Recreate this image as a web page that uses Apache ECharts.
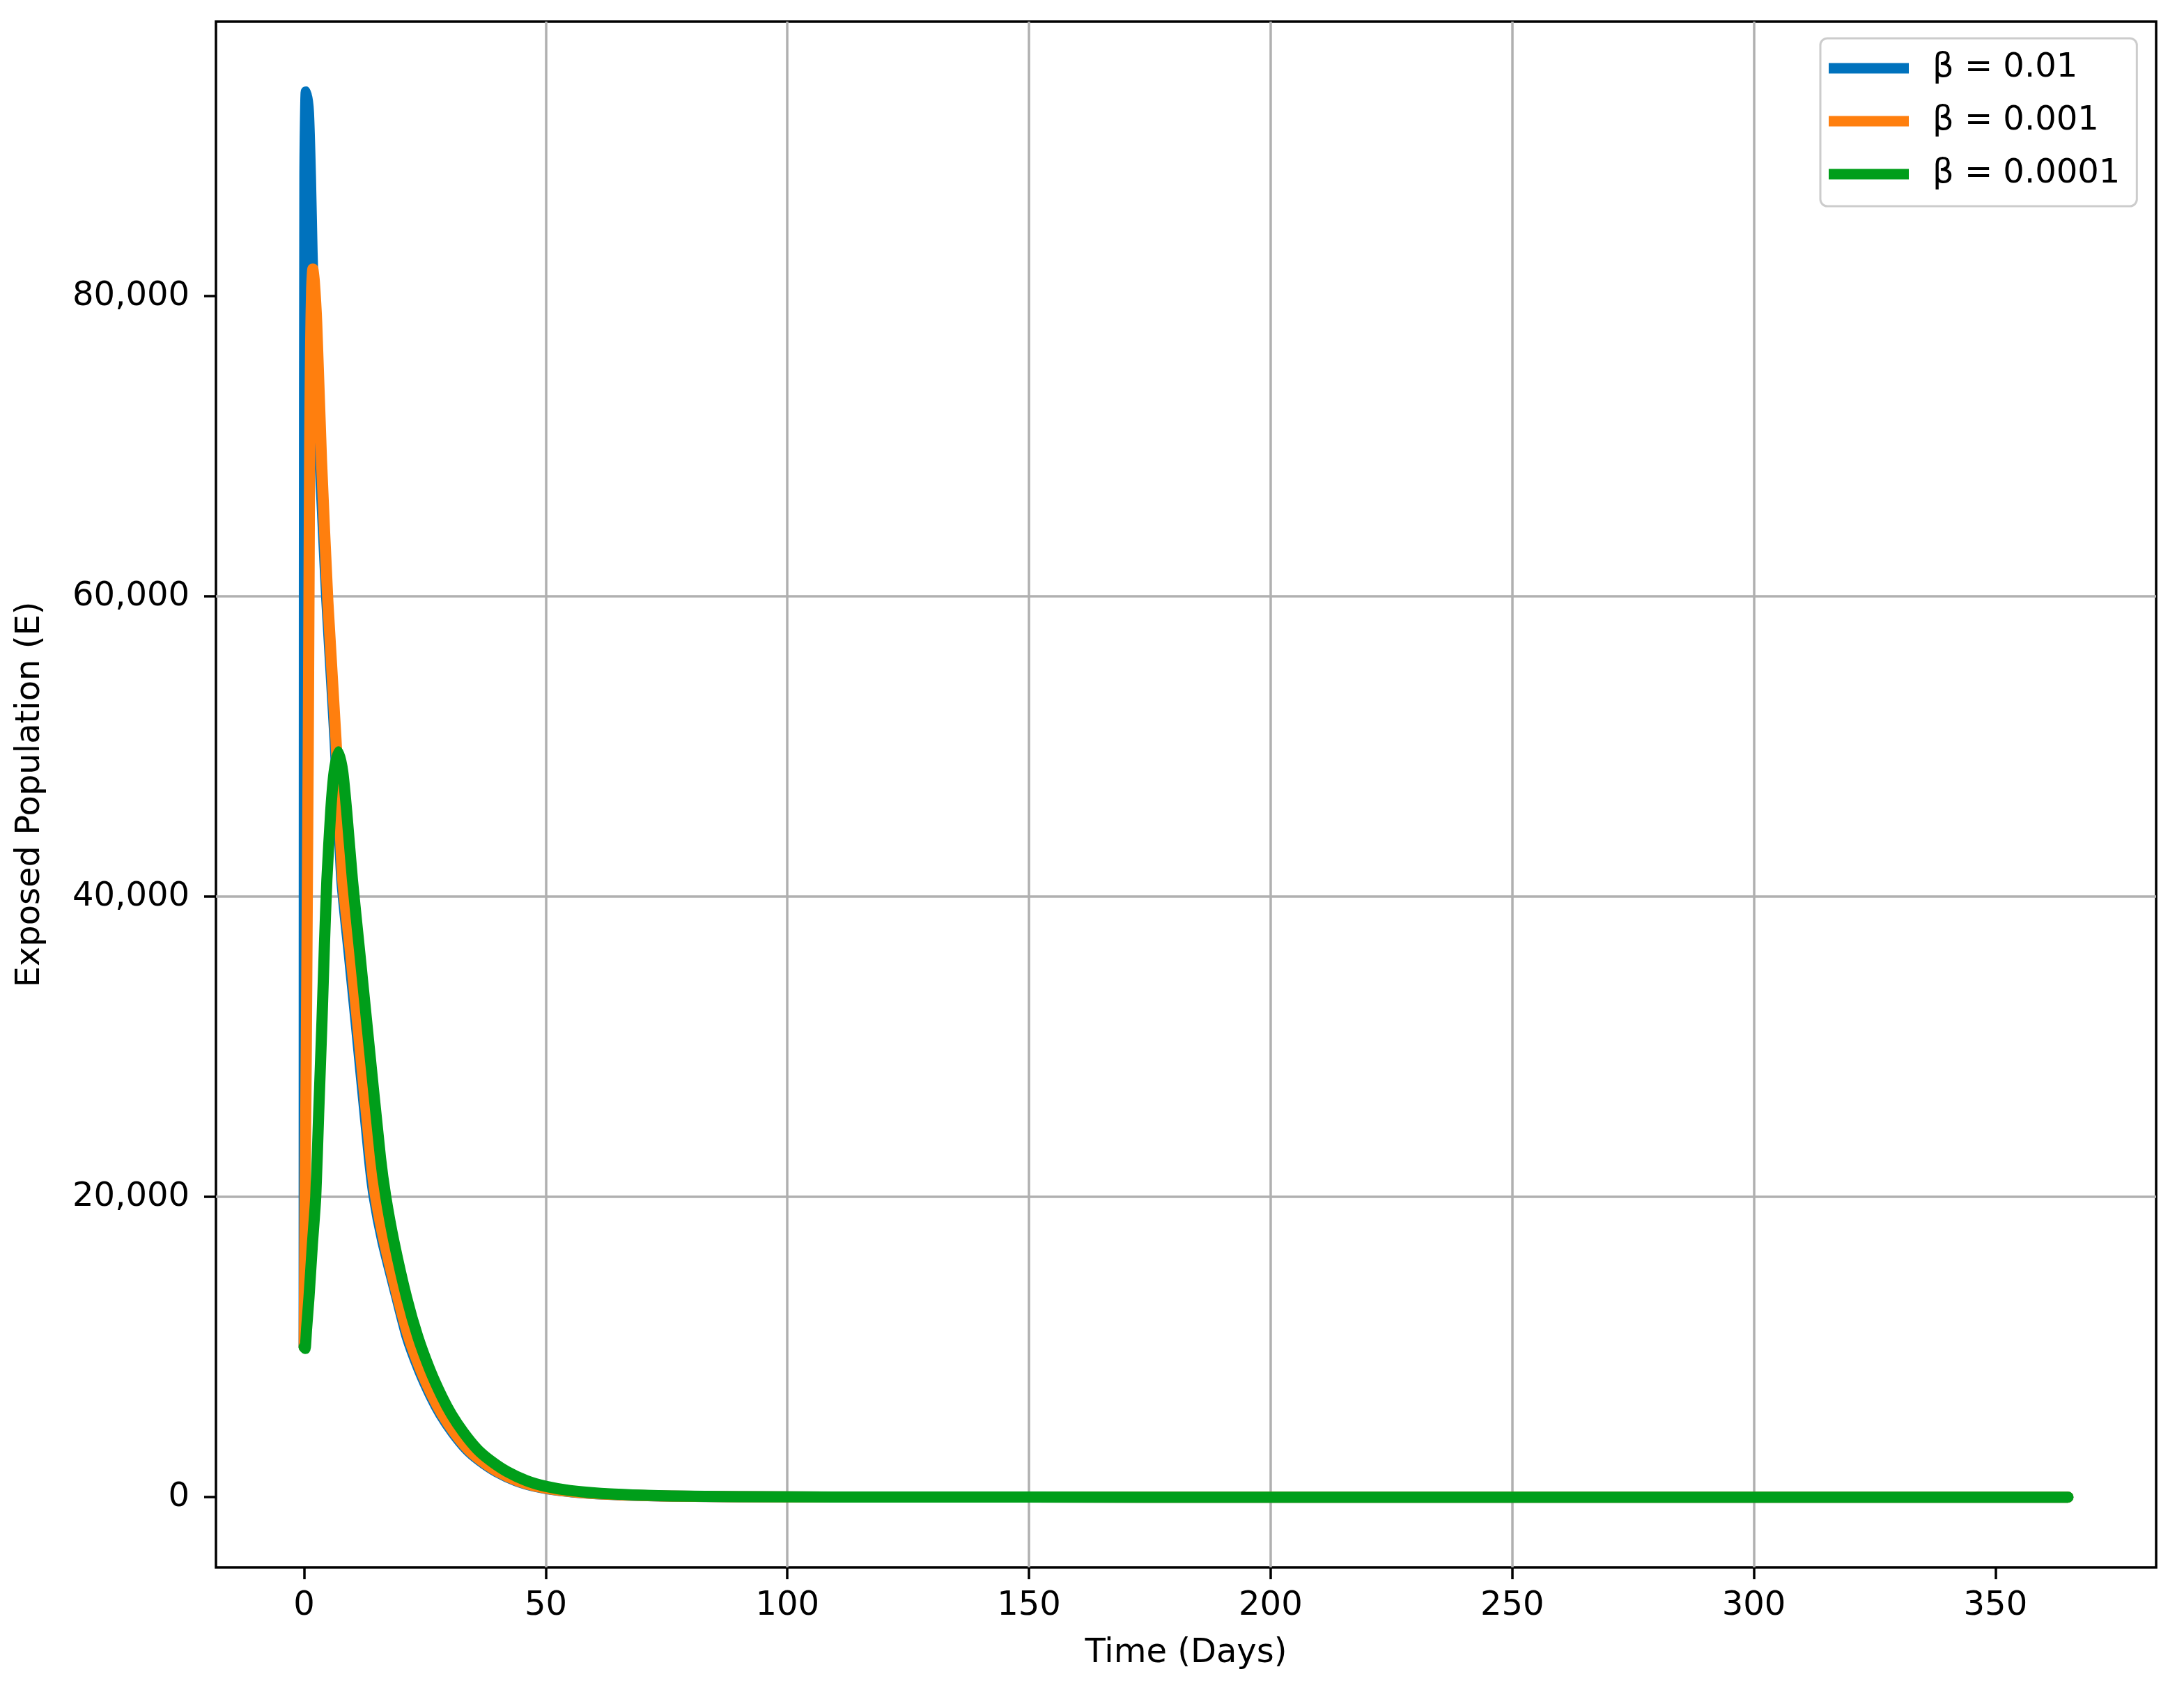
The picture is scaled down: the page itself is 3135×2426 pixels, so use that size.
<!DOCTYPE html>
<html>
<head>
<meta charset="utf-8">
<script src="https://cdn.jsdelivr.net/npm/echarts@6/dist/echarts.min.js"></script>
<style>
html,body{margin:0;padding:0;background:#fff;}
#chart{width:3135px;height:2426px;}
</style>
</head>
<body>
<div id="chart"></div>
<script>
// ---- data ----
const seriesNames = ['β = 0.01', 'β = 0.001', 'β = 0.0001'];

const blueDays = [0, 0.05, 0.15, 0.43, 0.9, 1.3, 1.64, 2.1, 3.3, 4.7, 6.4, 7.8, 9.3, 10.7, 13.5, 14.5, 16.3, 19.2, 21.3, 23.8, 26.3, 28.3, 30.8, 33.6, 36.3, 39.8, 43.8, 47.8, 52.8, 59.2, 65.7, 73.7, 87.7, 107.7, 147.7, 200, 250, 300, 365];
const blueE    = [10000, 60000, 88000, 93600, 92200, 88000, 82900, 78000, 69000, 59700, 50400, 41100, 36300, 31800, 22600, 20000, 17000, 13300, 10700, 8500, 6700, 5500, 4300, 3200, 2450, 1700, 1100, 720, 440, 250, 150, 80, 35, 12, 2, 0, 0, 0, 0];

const orangeDays = [0, 0.2, 0.45, 0.65, 0.85, 1.0, 1.15, 1.35, 1.55, 1.8, 2.1, 2.6, 3.6, 4.9, 6.6, 8.0, 9.6, 11.0, 13.8, 14.8, 16.6, 19.4, 21.6, 24.1, 26.6, 28.6, 31.1, 33.9, 36.6, 40.1, 44.1, 48.1, 53.1, 59.5, 66, 74, 88, 108, 148, 200, 250, 300, 365];
const orangeE    = [10000, 20000, 30000, 40000, 50000, 60000, 70000, 77000, 80500, 81800, 81000, 78200, 69000, 59700, 50400, 41100, 36300, 31800, 22600, 20000, 17000, 13300, 10700, 8500, 6700, 5500, 4300, 3200, 2450, 1700, 1100, 720, 440, 250, 150, 80, 35, 12, 2, 0, 0, 0, 0];

const greenDays = [0, 0.2, 0.5, 1.0, 1.7, 2.4, 3.0, 3.7, 4.2, 4.7, 5.5, 6.2, 7.1, 8.0, 8.8, 10.0, 11.5, 12.9, 15.8, 16.9, 18.6, 21.2, 23.5, 26.0, 28.5, 30.5, 33.0, 35.8, 38.5, 42.0, 46, 50, 55, 61.4, 68, 76, 90, 110, 150, 200, 250, 300, 365];
const greenE    = [10000, 9900, 11200, 13300, 16800, 20000, 25500, 31800, 36800, 41100, 45700, 48300, 49650, 48300, 45700, 41100, 36300, 31800, 22600, 20000, 17000, 13300, 10700, 8500, 6700, 5500, 4300, 3200, 2450, 1700, 1100, 720, 440, 250, 150, 80, 35, 12, 2, 0, 0, 0, 0];

const xTicks = [0, 50, 100, 150, 200, 250, 300, 350];
const yTicks = [0, 20000, 40000, 60000, 80000];

const colors = ['#0072bd', '#ff7f0e', '#009e1a'];

function pairs(xs, ys){ return xs.map((x,i)=>[x, ys[i]]); }

const FONT = 'DejaVu Sans';
const chart = echarts.init(document.getElementById('chart'), null, {renderer:'canvas'});

const lineSeries = [[blueDays, blueE],[orangeDays, orangeE],[greenDays, greenE]].map((d, i) => ({
  name: seriesNames[i],
  type: 'line',
  data: pairs(d[0], d[1]),
  showSymbol: false,
  symbol: 'none',
  smooth: 0.2,
  animation: false,
  lineStyle: { color: colors[i], width: 16, cap: 'round', join: 'round' },
  itemStyle: { color: colors[i] },
  emphasis: { disabled: true },
  z: 3 + i
}));

chart.setOption({
  animation: false,
  backgroundColor: '#ffffff',
  grid: {
    left: 310, right: 40, top: 31, bottom: 176,
    show: true, borderColor: '#000000', borderWidth: 3.5, backgroundColor: '#ffffff'
  },
  legend: {
    orient: 'vertical',
    left: 2613, top: 55,
    data: seriesNames,
    icon: 'rect',
    itemWidth: 115, itemHeight: 15,
    itemGap: 24,
    padding: [17, 24, 20, 12],
    backgroundColor: 'rgba(255,255,255,0.85)',
    borderColor: '#cccccc', borderWidth: 3, borderRadius: 10,
    textStyle: { fontFamily: FONT, fontSize: 48, color: '#000', lineHeight: 52, padding: [0,0,0,29] }
  },
  xAxis: {
    type: 'value',
    min: -18.25, max: 383.25,
    splitNumber: 8,
    name: 'Time (Days)',
    nameLocation: 'middle',
    nameGap: 100,
    nameTextStyle: { fontFamily: FONT, fontSize: 48, color: '#000' },
    axisLine: { show: false, onZero: false },
    axisTick: { show: true, customValues: xTicks, length: 17, lineStyle: { color: '#000', width: 3.5 } },
    axisLabel: { customValues: xTicks, margin: 32, fontFamily: FONT, fontSize: 48, color: '#000' },
    splitLine: { show: true, showMinLine: false, showMaxLine: false, lineStyle: { color: '#b0b0b0', width: 3.5 } }
  },
  yAxis: {
    type: 'value',
    min: -4680, max: 98290,
    splitNumber: 5,
    name: 'Exposed Population (E)',
    nameLocation: 'middle',
    nameRotate: 90,
    nameGap: 242,
    nameTextStyle: { fontFamily: FONT, fontSize: 48, color: '#000' },
    axisLine: { show: false, onZero: false },
    axisTick: { show: true, customValues: yTicks, length: 17, lineStyle: { color: '#000', width: 3.5 } },
    axisLabel: {
      customValues: yTicks, margin: 38, fontFamily: FONT, fontSize: 48, color: '#000',
      formatter: v => Number(v).toLocaleString('en-US')
    },
    splitLine: { show: true, showMinLine: false, showMaxLine: false, lineStyle: { color: '#b0b0b0', width: 3.5 } }
  },
  series: lineSeries
});
</script>
</body>
</html>
